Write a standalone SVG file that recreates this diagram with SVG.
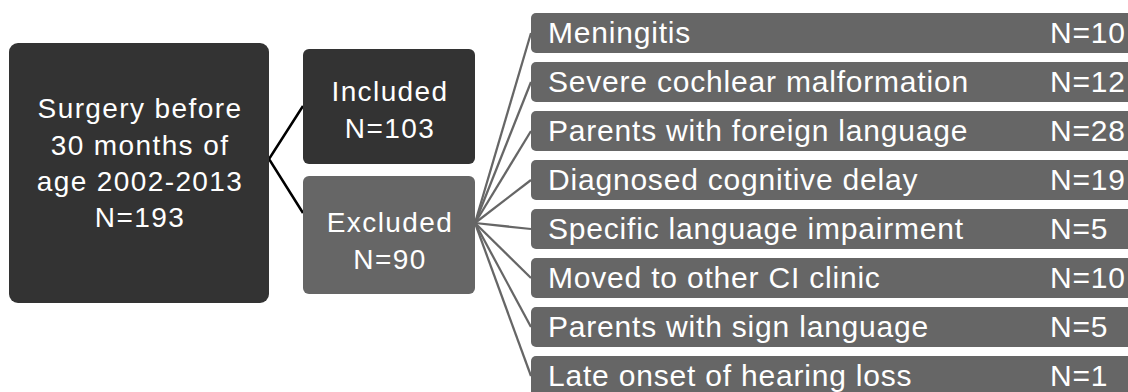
<svg xmlns="http://www.w3.org/2000/svg" width="1128" height="392" viewBox="0 0 1128 392">
<style>
.t{font-family:"Liberation Sans",Arial,sans-serif;fill:#fff}
.big{font-size:28px;letter-spacing:1.4px;text-anchor:middle}
.sm{font-size:30px;letter-spacing:0.8px}
.dark{fill:#333333}
.grey{fill:#666666}
.bl{stroke:#000;stroke-width:2.5;fill:none}
.gl{stroke:#666666;stroke-width:2.25;fill:none}
</style>
<rect width="1128" height="392" fill="#fff"/>
<g id="connectors">
<polyline class="bl" points="303,106 269,159 303,213"/>
<line class="gl" x1="475" y1="223" x2="531" y2="33"/>
<line class="gl" x1="475" y1="223" x2="531" y2="82"/>
<line class="gl" x1="475" y1="223" x2="531" y2="131"/>
<line class="gl" x1="475" y1="223" x2="531" y2="180"/>
<line class="gl" x1="475" y1="223" x2="531" y2="229"/>
<line class="gl" x1="475" y1="223" x2="531" y2="278"/>
<line class="gl" x1="475" y1="223" x2="531" y2="327"/>
<line class="gl" x1="475" y1="223" x2="531" y2="376"/>
</g>
<g id="main">
<rect class="dark" x="9" y="43" width="260" height="260" rx="9"/>
<text class="t big" x="140" y="118">Surgery before</text>
<text class="t big" x="140" y="155">30 months of</text>
<text class="t big" x="140" y="191">age 2002-2013</text>
<text class="t big" x="140" y="227">N=193</text>
</g>
<g id="included">
<rect class="dark" x="303" y="49" width="172" height="115" rx="6"/>
<text class="t big" x="390" y="101">Included</text>
<text class="t big" x="390" y="138">N=103</text>
</g>
<g id="excluded">
<rect class="grey" x="303" y="176" width="172" height="118" rx="6"/>
<text class="t big" x="390" y="232">Excluded</text>
<text class="t big" x="390" y="269">N=90</text>
</g>
<g id="r1"><rect class="grey" x="531" y="13" width="620" height="40" rx="5"/><text class="t sm" x="548" y="43">Meningitis</text><text class="t sm" x="1050" y="43">N=10</text></g>
<g id="r2"><rect class="grey" x="531" y="62" width="620" height="40" rx="5"/><text class="t sm" x="548" y="92">Severe cochlear malformation</text><text class="t sm" x="1050" y="92">N=12</text></g>
<g id="r3"><rect class="grey" x="531" y="111" width="620" height="40" rx="5"/><text class="t sm" x="548" y="141">Parents with foreign language</text><text class="t sm" x="1050" y="141">N=28</text></g>
<g id="r4"><rect class="grey" x="531" y="160" width="620" height="40" rx="5"/><text class="t sm" x="548" y="190">Diagnosed cognitive delay</text><text class="t sm" x="1050" y="190">N=19</text></g>
<g id="r5"><rect class="grey" x="531" y="209" width="620" height="40" rx="5"/><text class="t sm" x="548" y="239">Specific language impairment</text><text class="t sm" x="1050" y="239">N=5</text></g>
<g id="r6"><rect class="grey" x="531" y="258" width="620" height="40" rx="5"/><text class="t sm" x="548" y="288">Moved to other CI clinic</text><text class="t sm" x="1050" y="288">N=10</text></g>
<g id="r7"><rect class="grey" x="531" y="307" width="620" height="40" rx="5"/><text class="t sm" x="548" y="337">Parents with sign language</text><text class="t sm" x="1050" y="337">N=5</text></g>
<g id="r8"><rect class="grey" x="531" y="356" width="620" height="40" rx="5"/><text class="t sm" x="548" y="386">Late onset of hearing loss</text><text class="t sm" x="1050" y="386">N=1</text></g>
</svg>
